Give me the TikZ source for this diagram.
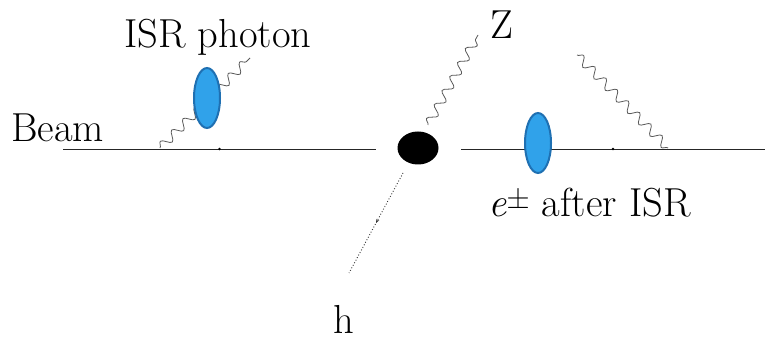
\documentclass[tikz,border=0pt]{standalone}
\usetikzlibrary{decorations.pathmorphing,decorations.markings,shapes.geometric,arrows.meta}
\definecolor{blobfill}{HTML}{30A2EA}
\definecolor{blobedge}{HTML}{1F70B2}
\begin{document}
\begin{tikzpicture}[x=1pt,y=1pt,
  lbl/.style={inner sep=0pt,anchor=base west,font=\fontsize{40.5}{44}\selectfont},
  fermion/.style={draw=black!85,line width=0.8pt,
    postaction={decorate},decoration={markings,mark=at position 0.5 with {\fill (0,0) circle (1.3pt);}}},
  photon/.style={draw=black!65,line width=0.8pt,decorate,
    decoration={snake,amplitude=4.5pt,segment length=16pt}},
  higgs/.style={draw=black!80,line width=0.9pt,dotted,
    postaction={decorate},decoration={markings,mark=at position 0.5 with {\arrow{Stealth[length=4pt,width=3pt]}}}},
  isrblob/.style={ellipse,fill=blobfill,draw=blobedge,line width=2pt,minimum width=26pt,minimum height=60pt,inner sep=0pt},
  vertexblob/.style={ellipse,fill=black,minimum width=41pt,minimum height=33pt,inner sep=0pt}
]
\useasboundingbox[fill=white] (0,0) rectangle (765,340);
% coordinates
\coordinate (b1s) at (63,191);
\coordinate (b1e) at (376,191);
\coordinate (b2s) at (461,191);
\coordinate (b2e) at (765,191);
\coordinate (g1s) at (160,192);
\coordinate (g1e) at (250,282);
\coordinate (zs) at (428,215);
\coordinate (ze) at (478,305);
\coordinate (g2s) at (577,285);
\coordinate (g2e) at (668,192);
\coordinate (hs) at (403,167);
\coordinate (he) at (349,67);
% lines
\draw[fermion] (b1s) -- (b1e);
\draw[fermion] (b2s) -- (b2e);
\draw[photon] (g1s) -- (g1e);
\draw[photon] (zs) -- (ze);
\draw[photon] (g2s) -- (g2e);
\draw[higgs] (hs) -- (he);
% blobs
\node[vertexblob] (vtx) at (418,192) {};
\node[isrblob] (isrL) at (207,242) {};
\node[isrblob] (isrR) at (538,197) {};
% labels
\node[lbl] (tisr) at (124,292) {ISR photon};
\node[lbl] (tbeam) at (11,198) {Beam};
\node[lbl] (tz) at (490,301) {Z};
\node[lbl] (th) at (333,7) {h};
\node[lbl] (te) at (488,123) {\textit{e}\raisebox{0.5ex}{\fontsize{32}{32}\selectfont ±} after ISR};
\end{tikzpicture}
\end{document}
